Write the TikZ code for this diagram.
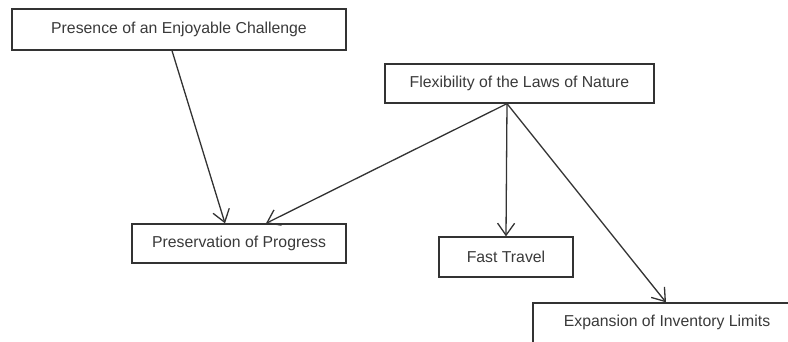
\documentclass[tikz,border=0pt]{standalone}
\usepackage{fontspec}
\setmainfont{Liberation Sans}
\usepackage{xcolor}
\usetikzlibrary{arrows.meta,positioning}
\definecolor{pline}{HTML}{333333}
\definecolor{ptext}{HTML}{3A3A3A}
\tikzset{
  % plain white box with a thin dark outline
  blk/.style = {rectangle, draw=pline, fill=white, line width=1.3pt,
                align=center, inner sep=0pt, text=ptext,
                font=\fontsize{15.8}{18}\selectfont},
  lane/.style = {-{Straight Barb[length=12pt,width=17pt,line width=1.3pt]},
                 line width=1.3pt, pline},
}
\begin{document}
\begin{tikzpicture}[x=1pt,y=-1pt]
\useasboundingbox (0,0) rectangle (788,342);
\begin{scope}
\clip (0,0) rectangle (788,342);
\node[blk, minimum width=334pt, minimum height=41pt] (chal) at (179,29.5)  {Presence of an Enjoyable Challenge};
\node[blk, minimum width=269pt, minimum height=39pt] (laws) at (519.5,83.5) {Flexibility of the Laws of Nature};
\node[blk, minimum width=214pt, minimum height=39pt] (prog) at (239,243.5)  {Preservation of Progress};
\node[blk, minimum width=134pt, minimum height=40pt] (trav) at (506,257)    {Fast Travel};
% runs past the right and bottom edges of the page
\node[blk, minimum width=300pt, minimum height=60pt, text depth=23.5pt] (inv) at (683,333)
  {\hspace*{-32pt}Expansion of Inventory Limits};
\end{scope}
% connectors
\draw[lane] ([xshift=-7pt]chal.south) -- ([xshift=-14pt]prog.north);
\draw[lane] ([xshift=-12.5pt]laws.south) -- ([xshift=27pt]prog.north);
\draw[lane] ([xshift=-12.5pt]laws.south) -- (trav.north);
\draw[lane] ([xshift=-12.5pt]laws.south) -- ([xshift=-17pt]inv.north);
\end{tikzpicture}
\end{document}
